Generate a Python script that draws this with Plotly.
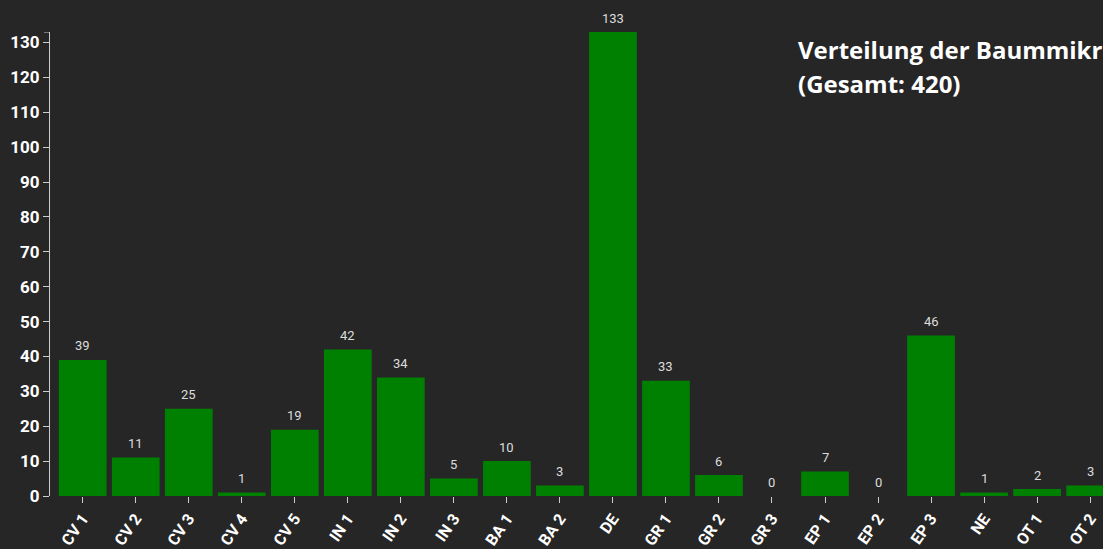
import plotly.graph_objects as go

categories = ["CV 1", "CV 2", "CV 3", "CV 4", "CV 5", "IN 1", "IN 2", "IN 3", "BA 1", "BA 2",
              "DE", "GR 1", "GR 2", "GR 3", "EP 1", "EP 2", "EP 3", "NE", "OT 1", "OT 2"]
values = [39, 11, 25, 1, 19, 42, 34, 5, 10, 3, 133, 33, 6, 0, 7, 0, 46, 1, 2, 3]
y_ticks = list(range(0, 131, 10))
title_line1 = "Verteilung der Baummikrohabitate"
title_line2 = "(Gesamt: %d)" % sum(values)

BG = "#262626"
AXIS = "#cccccc"
ymax = max(values)

fig = go.Figure()
fig.add_trace(go.Bar(
    x=categories, y=values,
    marker=dict(color="#008000", line=dict(width=0)),
    hoverinfo="x+y",
))

annotations = []
for c, v in zip(categories, values):
    annotations.append(dict(
        x=c, y=v, xref="x", yref="y", text=str(v), showarrow=False,
        yshift=14, yanchor="middle", xanchor="center",
        font=dict(family="Roboto", size=13, color="#dddddd"),
    ))
annotations.append(dict(
    x=0.7084, y=0.962, xref="paper", yref="paper", text=title_line1, showarrow=False,
    xanchor="left", yanchor="middle",
    font=dict(family="Open Sans", size=24, color="#ffffff", weight="bold"),
))
annotations.append(dict(
    x=0.7084, y=0.889, xref="paper", yref="paper", text=title_line2, showarrow=False,
    xanchor="left", yanchor="middle",
    font=dict(family="Open Sans", size=24, color="#ffffff", weight="bold"),
))

fig.update_layout(
    width=1103, height=549,
    margin=dict(l=50, r=0, t=32, b=53, pad=0),
    paper_bgcolor=BG, plot_bgcolor=BG,
    bargap=0.1,
    showlegend=False,
    annotations=annotations,
    shapes=[dict(type="line", xref="paper", yref="y", x0=-6 / 1053, x1=0, y0=ymax, y1=ymax,
                 line=dict(color=AXIS, width=1))],
    xaxis=dict(
        type="category", range=[-0.617, 19.243], automargin=False,
        showgrid=False, zeroline=False, showline=False,
        ticks="outside", ticklen=6, tickcolor=AXIS, tickwidth=1,
        tickangle=-55,
        tickfont=dict(family="Roboto", size=16, color="#ffffff", weight="bold"),
    ),
    yaxis=dict(
        range=[0, ymax], automargin=False,
        tickvals=y_ticks,
        showgrid=False, zeroline=False, showline=True, linecolor=AXIS, linewidth=1,
        ticks="outside", ticklen=6, tickcolor=AXIS, tickwidth=1,
        tickfont=dict(family="Roboto", size=17, color="#ffffff", weight="bold"),
    ),
)

fig.write_html(
    "out.html",
    config={"displayModeBar": False},
    post_script="document.body.style.margin='0';document.body.style.overflow='hidden';"
                "document.body.style.background='" + BG + "';",
)
